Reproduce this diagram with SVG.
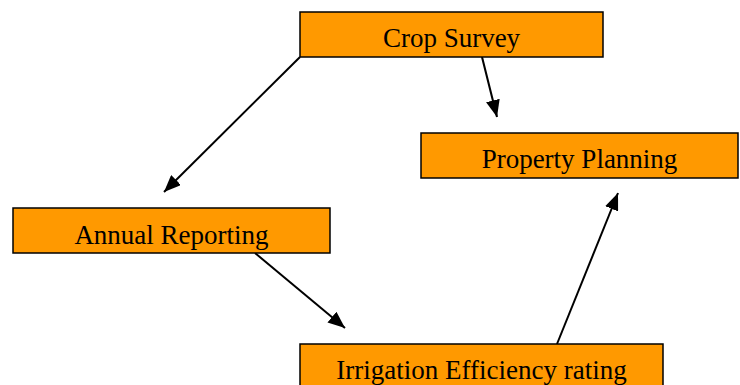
<svg xmlns="http://www.w3.org/2000/svg" width="740" height="385" viewBox="0 0 740 385">
  <style>
    .box { fill: #FF9900; stroke: #000; stroke-width: 1.5; }
    .lbl { font-family: "Liberation Serif", "Times New Roman", serif; font-size: 27px; fill: #000; text-anchor: middle; }
    .edge { stroke: #000; stroke-width: 2; fill: none; marker-end: url(#arrow); }
  </style>
  <defs>
    <marker id="arrow" markerUnits="userSpaceOnUse" markerWidth="17" markerHeight="14" viewBox="0 0 17 14" refX="17" refY="7" orient="auto">
      <path d="M0,0 L17,7 L0,14 Z" fill="#000"/>
    </marker>
  </defs>
  <rect width="740" height="385" fill="#fff"/>
  <g id="connectors">
    <line class="edge" x1="300" y1="57" x2="164" y2="192"/>
    <line class="edge" x1="482" y1="57" x2="497" y2="117"/>
    <line class="edge" x1="255" y1="253" x2="345" y2="328"/>
    <line class="edge" x1="557" y1="344" x2="618" y2="193"/>
  </g>
  <g id="crop-survey">
    <rect class="box" x="300" y="12" width="303" height="45"/>
    <text class="lbl" x="451.5" y="47">Crop Survey</text>
  </g>
  <g id="property-planning">
    <rect class="box" x="421" y="133" width="317" height="45"/>
    <text class="lbl" x="579.5" y="168">Property Planning</text>
  </g>
  <g id="annual-reporting">
    <rect class="box" x="13" y="208" width="317" height="45"/>
    <text class="lbl" x="171.5" y="244">Annual Reporting</text>
  </g>
  <g id="irrigation-efficiency-rating">
    <rect class="box" x="300" y="344" width="363" height="50"/>
    <text class="lbl" x="481.5" y="379">Irrigation Efficiency rating</text>
  </g>
</svg>
